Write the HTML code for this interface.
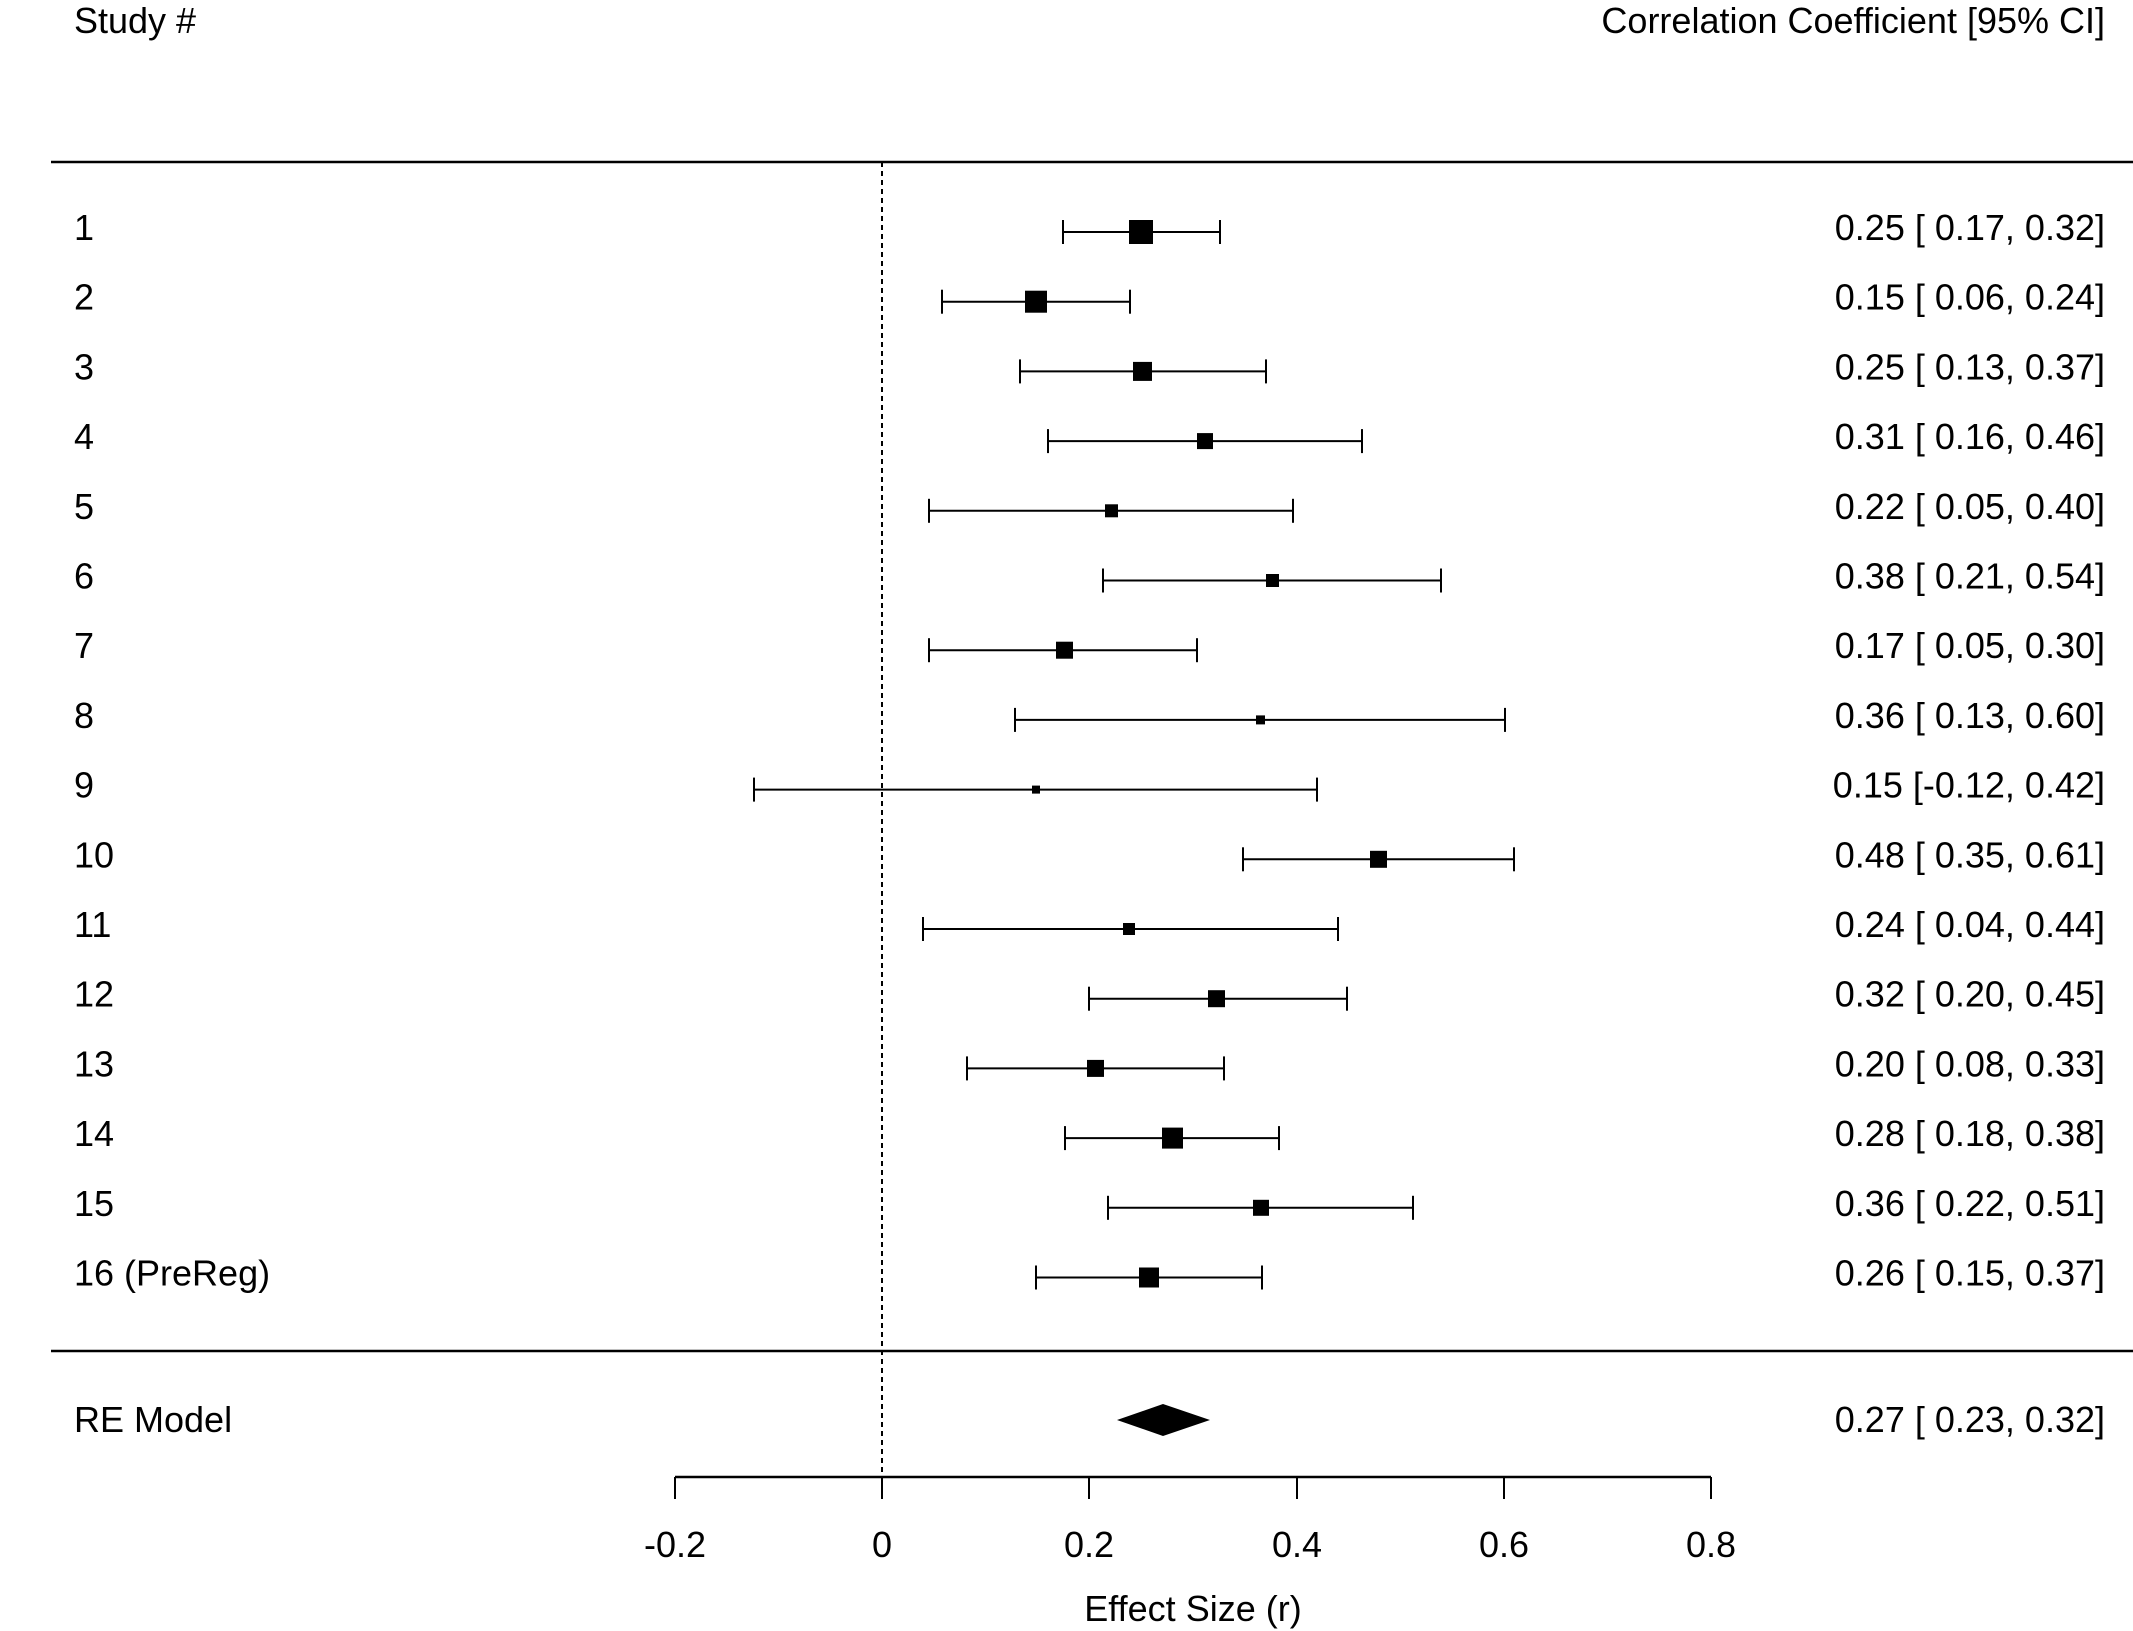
<!DOCTYPE html>
<html><head><style>body{margin:0;background:#fff}svg{display:block}</style></head><body>
<svg xmlns="http://www.w3.org/2000/svg" width="2133" height="1631" viewBox="0 0 2133 1631" font-family="Liberation Sans, Arial, sans-serif" font-size="36" fill="#000">
<rect width="2133" height="1631" fill="#fff"/>
<text x="74" y="33">Study #</text>
<text x="2105" y="33" text-anchor="end">Correlation Coefficient [95% CI]</text>
<line x1="51" y1="162" x2="2133" y2="162" stroke="#000" stroke-width="2.5"/>
<line x1="51" y1="1351" x2="2133" y2="1351" stroke="#000" stroke-width="2.5"/>
<line x1="882" y1="162" x2="882" y2="1477" stroke="#000" stroke-width="2" stroke-dasharray="5,4"/>
<polygon points="1117,1420 1163,1404 1210,1420 1163,1436" fill="#000"/>
<text x="74" y="1432">RE Model</text>
<text x="2105" y="1432" text-anchor="end">0.27 [ 0.23, 0.32]</text>
<line x1="675" y1="1477" x2="1711" y2="1477" stroke="#000" stroke-width="2.5"/>
<g stroke="#000" stroke-width="2">
<line x1="675" y1="1477" x2="675" y2="1499"/><line x1="882" y1="1477" x2="882" y2="1499"/><line x1="1089" y1="1477" x2="1089" y2="1499"/><line x1="1297" y1="1477" x2="1297" y2="1499"/><line x1="1504" y1="1477" x2="1504" y2="1499"/><line x1="1711" y1="1477" x2="1711" y2="1499"/>
</g>
<g text-anchor="middle">
<text x="675" y="1557">-0.2</text><text x="882" y="1557">0</text><text x="1089" y="1557">0.2</text><text x="1297" y="1557">0.4</text><text x="1504" y="1557">0.6</text><text x="1711" y="1557">0.8</text>
<text x="1193" y="1621">Effect Size (r)</text>
</g>
<g stroke="#000" stroke-width="2">
<line x1="1063" y1="232" x2="1220" y2="232"/><line x1="1063" y1="220" x2="1063" y2="244"/><line x1="1220" y1="220" x2="1220" y2="244"/>
<line x1="942" y1="301.7" x2="1130" y2="301.7"/><line x1="942" y1="289.7" x2="942" y2="313.7"/><line x1="1130" y1="289.7" x2="1130" y2="313.7"/>
<line x1="1020" y1="371.4" x2="1266" y2="371.4"/><line x1="1020" y1="359.4" x2="1020" y2="383.4"/><line x1="1266" y1="359.4" x2="1266" y2="383.4"/>
<line x1="1048" y1="441.1" x2="1362" y2="441.1"/><line x1="1048" y1="429.1" x2="1048" y2="453.1"/><line x1="1362" y1="429.1" x2="1362" y2="453.1"/>
<line x1="929" y1="510.8" x2="1293" y2="510.8"/><line x1="929" y1="498.8" x2="929" y2="522.8"/><line x1="1293" y1="498.8" x2="1293" y2="522.8"/>
<line x1="1103" y1="580.5" x2="1441" y2="580.5"/><line x1="1103" y1="568.5" x2="1103" y2="592.5"/><line x1="1441" y1="568.5" x2="1441" y2="592.5"/>
<line x1="929" y1="650.2" x2="1197" y2="650.2"/><line x1="929" y1="638.2" x2="929" y2="662.2"/><line x1="1197" y1="638.2" x2="1197" y2="662.2"/>
<line x1="1015" y1="719.9" x2="1505" y2="719.9"/><line x1="1015" y1="707.9" x2="1015" y2="731.9"/><line x1="1505" y1="707.9" x2="1505" y2="731.9"/>
<line x1="754" y1="789.6" x2="1317" y2="789.6"/><line x1="754" y1="777.6" x2="754" y2="801.6"/><line x1="1317" y1="777.6" x2="1317" y2="801.6"/>
<line x1="1243" y1="859.3" x2="1514" y2="859.3"/><line x1="1243" y1="847.3" x2="1243" y2="871.3"/><line x1="1514" y1="847.3" x2="1514" y2="871.3"/>
<line x1="923" y1="929" x2="1338" y2="929"/><line x1="923" y1="917" x2="923" y2="941"/><line x1="1338" y1="917" x2="1338" y2="941"/>
<line x1="1089" y1="998.7" x2="1347" y2="998.7"/><line x1="1089" y1="986.7" x2="1089" y2="1010.7"/><line x1="1347" y1="986.7" x2="1347" y2="1010.7"/>
<line x1="967" y1="1068.4" x2="1224" y2="1068.4"/><line x1="967" y1="1056.4" x2="967" y2="1080.4"/><line x1="1224" y1="1056.4" x2="1224" y2="1080.4"/>
<line x1="1065" y1="1138.1" x2="1279" y2="1138.1"/><line x1="1065" y1="1126.1" x2="1065" y2="1150.1"/><line x1="1279" y1="1126.1" x2="1279" y2="1150.1"/>
<line x1="1108" y1="1207.8" x2="1413" y2="1207.8"/><line x1="1108" y1="1195.8" x2="1108" y2="1219.8"/><line x1="1413" y1="1195.8" x2="1413" y2="1219.8"/>
<line x1="1036" y1="1277.5" x2="1262" y2="1277.5"/><line x1="1036" y1="1265.5" x2="1036" y2="1289.5"/><line x1="1262" y1="1265.5" x2="1262" y2="1289.5"/>
</g>
<g fill="#000">
<rect x="1129" y="220" width="24" height="24"/>
<rect x="1025" y="290.7" width="22" height="22"/>
<rect x="1133" y="361.9" width="19" height="19"/>
<rect x="1197" y="433.1" width="16" height="16"/>
<rect x="1105" y="504.3" width="13" height="13"/>
<rect x="1266" y="574" width="13" height="13"/>
<rect x="1056" y="641.7" width="17" height="17"/>
<rect x="1256" y="715.4" width="9" height="9"/>
<rect x="1032" y="785.6" width="8" height="8"/>
<rect x="1370" y="850.8" width="17" height="17"/>
<rect x="1123" y="923" width="12" height="12"/>
<rect x="1208" y="990.2" width="17" height="17"/>
<rect x="1087" y="1059.9" width="17" height="17"/>
<rect x="1162" y="1127.6" width="21" height="21"/>
<rect x="1253" y="1199.8" width="16" height="16"/>
<rect x="1139" y="1267.5" width="20" height="20"/>
</g>
<g>
<text x="74" y="240">1</text><text x="74" y="309.7">2</text><text x="74" y="379.4">3</text><text x="74" y="449.1">4</text>
<text x="74" y="518.8">5</text><text x="74" y="588.5">6</text><text x="74" y="658.2">7</text><text x="74" y="727.9">8</text>
<text x="74" y="797.6">9</text><text x="74" y="867.3">10</text><text x="74" y="937">11</text><text x="74" y="1006.7">12</text>
<text x="74" y="1076.4">13</text><text x="74" y="1146.1">14</text><text x="74" y="1215.8">15</text><text x="74" y="1285.5">16 (PreReg)</text>
</g>
<g text-anchor="end">
<text x="2105" y="240">0.25 [ 0.17, 0.32]</text>
<text x="2105" y="309.7">0.15 [ 0.06, 0.24]</text>
<text x="2105" y="379.4">0.25 [ 0.13, 0.37]</text>
<text x="2105" y="449.1">0.31 [ 0.16, 0.46]</text>
<text x="2105" y="518.8">0.22 [ 0.05, 0.40]</text>
<text x="2105" y="588.5">0.38 [ 0.21, 0.54]</text>
<text x="2105" y="658.2">0.17 [ 0.05, 0.30]</text>
<text x="2105" y="727.9">0.36 [ 0.13, 0.60]</text>
<text x="2105" y="797.6">0.15 [-0.12, 0.42]</text>
<text x="2105" y="867.3">0.48 [ 0.35, 0.61]</text>
<text x="2105" y="937">0.24 [ 0.04, 0.44]</text>
<text x="2105" y="1006.7">0.32 [ 0.20, 0.45]</text>
<text x="2105" y="1076.4">0.20 [ 0.08, 0.33]</text>
<text x="2105" y="1146.1">0.28 [ 0.18, 0.38]</text>
<text x="2105" y="1215.8">0.36 [ 0.22, 0.51]</text>
<text x="2105" y="1285.5">0.26 [ 0.15, 0.37]</text>
</g>
</svg>
</body></html>
